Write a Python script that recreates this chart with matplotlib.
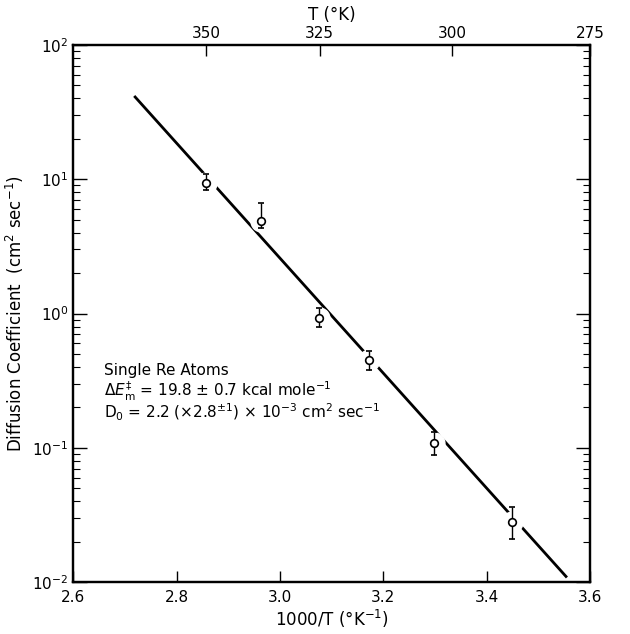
import matplotlib
matplotlib.use("Agg")
import matplotlib.pyplot as plt
from matplotlib.ticker import LogLocator, NullFormatter, FixedLocator

# data
inv_T = [2.857, 2.963, 3.075, 3.173, 3.298, 3.448]
D = [9.3, 4.9, 0.92, 0.45, 0.108, 0.028]
D_hi = [10.9, 6.6, 1.09, 0.53, 0.13, 0.036]
D_lo = [8.3, 4.3, 0.80, 0.38, 0.088, 0.021]

# fitted line end points
fit_x = [2.72, 3.553]
fit_y = [41.0, 0.0110]

T_ticks = [350, 325, 300, 275]

plt.rcParams['font.family'] = 'DejaVu Sans'
plt.rcParams['mathtext.fontset'] = 'dejavusans'

fig = plt.figure(figsize=(6.3, 6.34), dpi=100)
ax = fig.add_axes([0.116, 0.082, 0.821, 0.847])

ax.plot(fit_x, fit_y, color='black', lw=2.0, zorder=2)
# white discs break the line around each point
ax.plot(inv_T, D, 'o', ms=15, color='white', mec='white', zorder=3)
err = [[d - lo for d, lo in zip(D, D_lo)], [hi - d for d, hi in zip(D, D_hi)]]
ax.errorbar(inv_T, D, yerr=err, fmt='o', ms=5.5, mfc='white', mec='black',
            mew=1.2, ecolor='black', elinewidth=1.0, capsize=2.5, capthick=1.0,
            zorder=4)

ax.set_yscale('log')
ax.set_xlim(2.6, 3.6)
ax.set_ylim(1e-2, 1e2)
ax.set_xticks([2.6, 2.8, 3.0, 3.2, 3.4, 3.6])
ax.set_xticklabels(['2.6', '2.8', '3.0', '3.2', '3.4', '3.6'])
ax.yaxis.set_major_locator(LogLocator(base=10, numticks=10))
ax.yaxis.set_minor_locator(LogLocator(base=10, subs=range(2, 10), numticks=10))
ax.yaxis.set_minor_formatter(NullFormatter())

ax.tick_params(axis='x', which='both', direction='in', top=False, length=8,
               width=1.0, labelsize=11, pad=6)
ax.tick_params(axis='y', which='major', direction='in', right=True, length=10,
               width=1.0, labelsize=11)
ax.tick_params(axis='y', which='minor', direction='in', right=True, length=5,
               width=0.8)
for s in ax.spines.values():
    s.set_linewidth(1.6)

ax.set_xlabel('1000/T (°K$^{-1}$)', fontsize=12, labelpad=2)
ax.set_ylabel('Diffusion Coefficient  (cm$^2$ sec$^{-1}$)', fontsize=12, labelpad=4)

# top temperature axis
ax2 = ax.twiny()
ax2.set_xlim(ax.get_xlim())
ax2.xaxis.set_major_locator(FixedLocator([min(1000.0 / t, 3.6) for t in T_ticks]))
ax2.set_xticklabels([str(t) for t in T_ticks])
ax2.tick_params(axis='x', direction='in', length=8, width=1.0, labelsize=11, pad=3)
ax2.set_xlabel('T (°K)', fontsize=12, labelpad=4)
for s in ax2.spines.values():
    s.set_linewidth(1.6)

ax.text(0.06, 0.385, 'Single Re Atoms', transform=ax.transAxes, fontsize=11)
ax.text(0.06, 0.345, r'$\Delta E_{\rm m}^{\ddag}$ = 19.8 ± 0.7 kcal mole$^{-1}$',
        transform=ax.transAxes, fontsize=11)
ax.text(0.06, 0.305, r'D$_0$ = 2.2 (×2.8$^{\pm1}$) × 10$^{-3}$ cm$^2$ sec$^{-1}$',
        transform=ax.transAxes, fontsize=11)

fig.savefig('out.png', dpi=100)
